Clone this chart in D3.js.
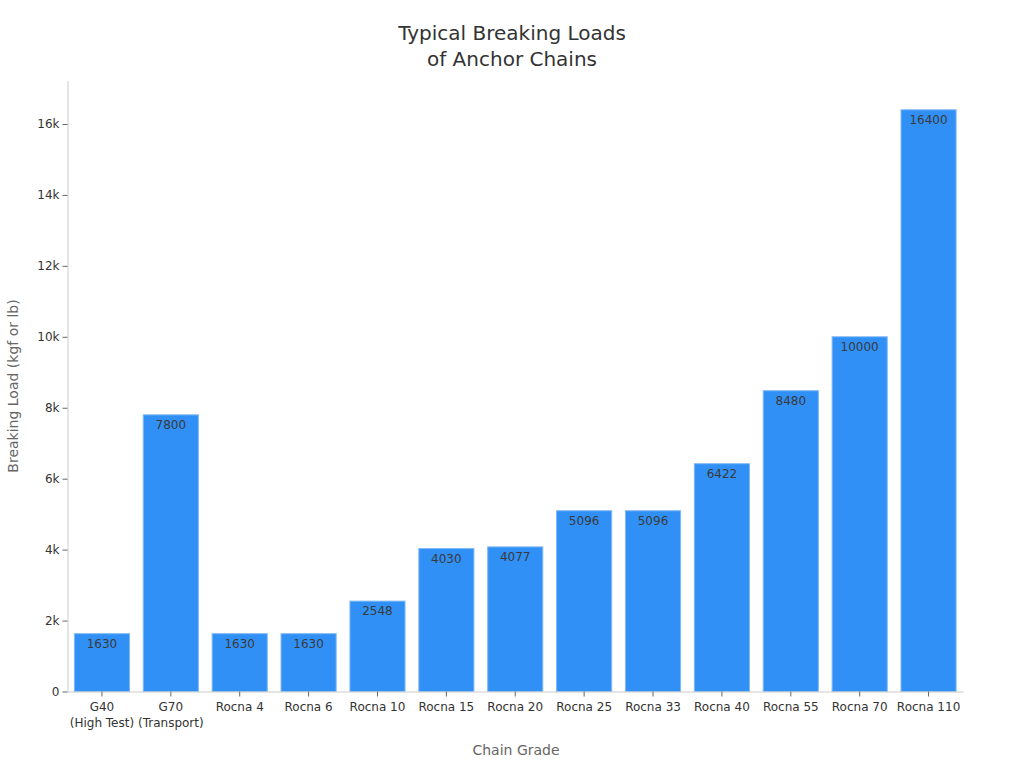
<!DOCTYPE html>
<html><head><meta charset="utf-8">
<script src="https://cdn.jsdelivr.net/npm/d3@7"></script>
<style>body{margin:0;background:#fff;} text{font-family:"DejaVu Sans",sans-serif;}</style>
</head><body>
<svg id="c" width="1024" height="768"></svg>
<script>
const categories = ["G40\n(High Test)","G70\n(Transport)","Rocna 4","Rocna 6","Rocna 10","Rocna 15","Rocna 20","Rocna 25","Rocna 33","Rocna 40","Rocna 55","Rocna 70","Rocna 110"];
const values = [1630,7800,1630,1630,2548,4030,4077,5096,5096,6422,8480,10000,16400];
const yTicks = [0,2000,4000,6000,8000,10000,12000,14000,16000];

const svg = d3.select("#c");
const m = {l:67.5, r:963, t:80.7, b:691.5};
const x = d3.scaleBand().domain(categories).range([m.l, m.r]).paddingInner(0.2).paddingOuter(0.1);
const y = d3.scaleLinear().domain([0, 17220]).range([m.b, m.t]);

svg.append("text").attr("x",512).attr("y",40).attr("text-anchor","middle").attr("font-size",20).attr("fill","#333").text("Typical Breaking Loads");
svg.append("text").attr("x",512).attr("y",66).attr("text-anchor","middle").attr("font-size",20).attr("fill","#333").text("of Anchor Chains");

const gy = svg.append("g").attr("transform",`translate(${m.l},0)`)
  .call(d3.axisLeft(y).tickValues(yTicks).tickSize(5).tickSizeOuter(0).tickPadding(3).tickFormat(d=> d===0?"0":(d/1000)+"k"));
gy.select(".domain").attr("stroke","#ccc");
gy.selectAll(".tick line").attr("stroke","#666");
gy.selectAll(".tick text").attr("font-size",12).attr("fill","#333").style("font-family","DejaVu Sans");

svg.append("g").selectAll("rect").data(values).join("rect")
  .attr("x",(d,i)=>x(categories[i])).attr("width",x.bandwidth())
  .attr("y",d=>y(d)).attr("height",d=>y(0)-y(d))
  .attr("fill","#3090f5").attr("stroke","#7fb8f5").attr("stroke-width",1);

svg.append("g").selectAll("text").data(values).join("text")
  .attr("x",(d,i)=>x(categories[i])+x.bandwidth()/2).attr("y",d=>y(d)+14)
  .attr("text-anchor","middle").attr("font-size",12).attr("fill","#3a3a3a").text(d=>d);

const gx = svg.append("g").attr("transform",`translate(0,${m.b})`)
  .call(d3.axisBottom(x).tickSize(5).tickSizeOuter(0).tickPadding(6));
gx.select(".domain").attr("stroke","#ccc");
gx.selectAll(".tick line").attr("stroke","#666");
gx.selectAll(".tick text").attr("font-size",12).attr("fill","#333").style("font-family","DejaVu Sans")
  .each(function(d){
    const t = d3.select(this); const parts = d.split("\n"); t.text(null);
    parts.forEach((p,i)=> t.append("tspan").attr("x",0).attr("dy", i===0? "0.71em":"1.3em").text(p));
  });

svg.append("text").attr("x",516).attr("y",755).attr("text-anchor","middle").attr("font-size",14).attr("fill","#666").text("Chain Grade");
svg.append("text").attr("transform","translate(18,386) rotate(-90)").attr("text-anchor","middle").attr("font-size",14).attr("fill","#666").text("Breaking Load (kgf or lb)");
</script>
</body></html>
